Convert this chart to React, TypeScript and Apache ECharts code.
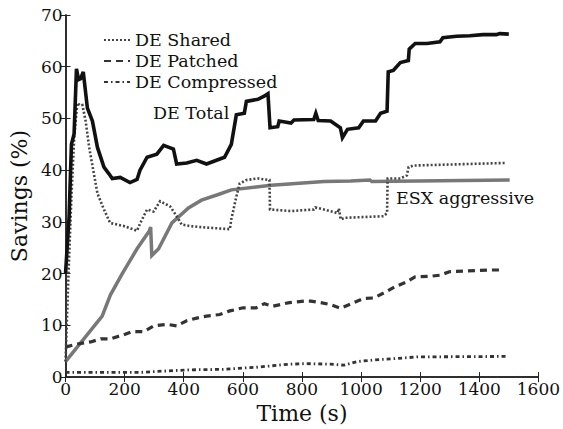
import React, { useEffect, useRef } from "react";
import * as echarts from "echarts";

const totalT = [0, 12, 20, 29, 37, 44, 51, 60, 74, 91, 108, 130, 147, 158, 185, 218, 242, 252, 276, 309, 332, 365, 376, 410, 444, 477, 538, 561, 578, 605, 612, 651, 672, 685, 692, 718, 723, 763, 773, 840, 847, 855, 897, 920, 930, 937, 954, 992, 1008, 1049, 1066, 1088, 1092, 1109, 1133, 1160, 1163, 1183, 1223, 1267, 1277, 1323, 1368, 1412, 1458, 1469, 1500];
const totalV = [20, 31, 45, 47, 59.6, 57.5, 57.7, 59, 52, 49.5, 44.4, 40.6, 39.3, 38.4, 38.6, 37.6, 38.2, 40, 42.5, 43.1, 44.8, 44.1, 41.2, 41.4, 41.9, 41.2, 42.5, 45, 50.7, 51, 53.3, 53.7, 54.3, 54.8, 48.2, 48.4, 49.5, 49.1, 49.7, 49.8, 51, 49.6, 49.5, 48.6, 48.2, 46.3, 47.9, 48.2, 49.5, 49.5, 51, 51.4, 59, 59.3, 60.8, 61.2, 63.4, 64.5, 64.5, 64.8, 65.6, 65.9, 66, 66.2, 66.2, 66.4, 66.3];

const sharedT = [0, 10, 20, 30, 40, 50, 57, 68, 80, 96, 108, 130, 151, 197, 242, 253, 276, 298, 320, 354, 376, 393, 421, 477, 556, 561, 578, 589, 612, 651, 690, 692, 763, 840, 845, 874, 920, 925, 931, 946, 1076, 1088, 1090, 1133, 1155, 1161, 1178, 1491];
const sharedV = [3, 20, 35, 47, 53, 52.5, 52.6, 49.5, 44.4, 39.3, 35.5, 32.4, 29.8, 29.2, 28.3, 29.8, 32.4, 32.0, 34, 33, 31.1, 29.5, 29.2, 28.9, 28.6, 30.5, 34.9, 37.4, 38.1, 38.4, 38.1, 32.4, 32.1, 32.4, 32.8, 32.4, 31.7, 32.6, 30.5, 30.8, 31.1, 31.7, 38.4, 38.4, 39, 40.6, 40.9, 41.4];

const patchedT = [0, 40, 85, 119, 152, 197, 225, 265, 298, 343, 376, 410, 444, 477, 522, 556, 601, 645, 673, 701, 757, 808, 830, 864, 897, 931, 976, 1009, 1043, 1082, 1116, 1150, 1183, 1234, 1267, 1301, 1346, 1435, 1480];
const patchedV = [5.8, 6.4, 6.8, 7.4, 7.4, 8.2, 8.8, 8.8, 9.9, 10.2, 9.9, 10.9, 11.4, 11.8, 12.1, 12.8, 13.4, 13.4, 14.2, 13.7, 14.4, 14.7, 14.7, 14.4, 14.0, 13.3, 14.4, 15.2, 15.3, 16.4, 17.5, 18.3, 19.4, 19.5, 19.7, 20.4, 20.5, 20.7, 20.7];

const compT = [0, 252, 309, 421, 533, 645, 757, 813, 897, 942, 987, 1043, 1121, 1189, 1491];
const compV = [0.9, 0.9, 1.1, 1.4, 1.5, 1.9, 2.5, 2.6, 2.5, 2.3, 3.0, 3.3, 3.6, 3.9, 4.0];

const esxT = [0, 124, 152, 192, 242, 283, 288, 292, 315, 360, 416, 460, 517, 561, 696, 875, 965, 1030, 1036, 1503];
const esxV = [3, 11.8, 15.9, 20, 24.8, 28.2, 29, 23.5, 24.8, 29.8, 32.7, 34.2, 35.3, 36.2, 37.1, 37.8, 37.9, 38.1, 37.8, 38.1];

const legendNames = ["DE Shared", "DE Patched", "DE Compressed"];
const FONT = "'DejaVu Serif', 'Liberation Serif', serif";

const pairs = (t: number[], v: number[]) => t.map((x, i) => [x, v[i]]);

export default function App() {
  const ref = useRef<HTMLDivElement>(null);
  useEffect(() => {
    if (!ref.current) return;
    const chart = echarts.init(ref.current, null, { renderer: "svg" });
    const axisLine = { show: true, lineStyle: { color: "#222", width: 1.5 } };
    const tick = { show: true, inside: true, length: 5, lineStyle: { color: "#222", width: 1 } };
    const lineSeries = (name: string, t: number[], v: number[], color: string, width: number, type: any, z = 2) => ({
      name,
      type: "line",
      data: pairs(t, v),
      showSymbol: false,
      symbol: "none",
      z,
      lineStyle: { color, width, type, cap: "butt", join: "miter" },
      itemStyle: { color },
    });
    chart.setOption({
      animation: false,
      backgroundColor: "#fff",
      textStyle: { fontFamily: FONT },
      grid: { left: 63, right: 24, top: 15, bottom: 45 },
      legend: {
        data: legendNames.map((n) => ({ name: n })),
        orient: "vertical",
        left: 98,
        top: 26,
        itemWidth: 26,
        itemHeight: 12,
        itemGap: 3,
        itemStyle: { opacity: 0 },
        textStyle: { fontFamily: FONT, fontSize: 17.5, color: "#111" },
      },
      xAxis: [
        {
          type: "value",
          min: 0,
          max: 1600,
          interval: 200,
          name: "Time (s)",
          nameLocation: "middle",
          nameGap: 14,
          nameTextStyle: { fontFamily: FONT, fontSize: 22, color: "#111", verticalAlign: "top" },
          axisLine,
          axisTick: tick,
          splitLine: { show: false },
          axisLabel: {
            fontFamily: FONT,
            fontSize: 17,
            color: "#111",
            margin: 3,
            formatter: (v: number) => String(v),
          },
        },
        {
          type: "value",
          position: "top",
          min: 0,
          max: 1600,
          interval: 200,
          axisLine,
          axisTick: tick,
          splitLine: { show: false },
          axisLabel: { show: false },
        },
      ],
      yAxis: [
        {
          type: "value",
          min: 0,
          max: 70,
          interval: 10,
          name: "Savings (%)",
          nameLocation: "middle",
          nameGap: 29,
          nameTextStyle: { fontFamily: FONT, fontSize: 22, color: "#111" },
          axisLine,
          axisTick: tick,
          splitLine: { show: false },
          axisLabel: { fontFamily: FONT, fontSize: 17, color: "#111", margin: 3, formatter: (v: number) => String(v) },
        },
        {
          type: "value",
          position: "right",
          min: 0,
          max: 70,
          interval: 10,
          axisLine,
          axisTick: tick,
          splitLine: { show: false },
          axisLabel: { show: false },
        },
      ],
      series: [
        lineSeries("ESX aggressive", esxT, esxV, "#787878", 3.5, "solid", 2),
        lineSeries("DE Compressed", compT, compV, "#333", 2.8, [4, 3, 1.5, 3], 3),
        lineSeries("DE Patched", patchedT, patchedV, "#333", 3.2, [7, 5], 3),
        lineSeries("DE Shared", sharedT, sharedV, "#444", 2.6, [2, 2], 3),
        lineSeries("DE Total", totalT, totalV, "#111", 3.6, "solid", 4),
      ],
      graphic: [
        {
          type: "text",
          left: 153,
          top: 104,
          style: { text: "DE Total", fontFamily: FONT, fontSize: 17.5, fill: "#111" },
        },
        {
          type: "text",
          left: 396,
          top: 189,
          style: { text: "ESX aggressive", fontFamily: FONT, fontSize: 17.5, fill: "#111" },
        },
      ],
    });
    return () => chart.dispose();
  }, []);
  return (
    <div
      ref={ref}
      style={{ position: "fixed", left: 0, top: 0, width: 563, height: 429, background: "#fff" }}
    />
  );
}
